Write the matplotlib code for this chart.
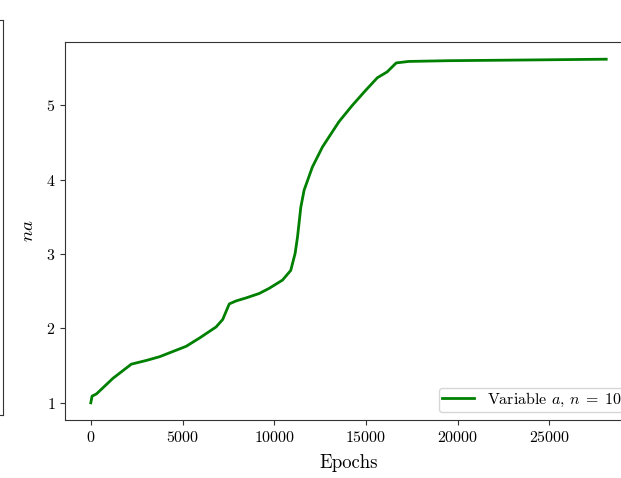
import matplotlib
matplotlib.use("Agg")
import matplotlib.pyplot as plt

plt.rcParams["font.family"] = "serif"
plt.rcParams["font.serif"] = ["cmr10"]
plt.rcParams["mathtext.fontset"] = "cm"
plt.rcParams["axes.formatter.use_mathtext"] = True

epochs = [0, 70, 310, 1210, 2210, 3030, 3750, 5200, 5920, 6830, 7190, 7550,
          7920, 8460, 9180, 9730, 10450, 10900, 11140, 11270, 11450, 11630,
          12080, 12630, 13530, 14260, 14980, 15620, 16160, 16650, 17340,
          19500, 24000, 28100]
na_values = [1.00, 1.09, 1.12, 1.33, 1.52, 1.57, 1.62, 1.76, 1.87, 2.02, 2.12, 2.33,
             2.37, 2.41, 2.47, 2.54, 2.65, 2.78, 3.01, 3.23, 3.63, 3.86,
             4.17, 4.44, 4.78, 5.00, 5.20, 5.37, 5.45, 5.57, 5.59,
             5.60, 5.61, 5.62]
series_label = r"Variable $a$, $n\;=\;10$"

fig = plt.figure(figsize=(6.21, 4.78), dpi=100)

# neighbouring panel, only its right edge falls inside the canvas
ax_left = fig.add_axes([-0.8, 0.1318, 0.8048, 0.8264])
ax_left.set_xticks([])
ax_left.set_yticks([])
for sp in ax_left.spines.values():
    sp.set_color("#333333")

ax = fig.add_axes([0.1047, 0.1213, 0.913, 0.7908])
ax.plot(epochs, na_values, color="green", linewidth=2, label=series_label)
ax.set_xlabel("Epochs", fontsize=13.5, labelpad=7)
ax.set_ylabel("$na$", fontsize=13.5, labelpad=6)
ax.set_xticks([0, 5000, 10000, 15000, 20000, 25000])
ax.set_yticks([1, 2, 3, 4, 5])
ax.tick_params(labelsize=11.5, color="#333333")
for sp in ax.spines.values():
    sp.set_color("#333333")
ax.legend(loc="lower right", bbox_to_anchor=(1.002, 0), fontsize=11.5, borderpad=0.2)

fig.savefig("out.png", dpi=100)
